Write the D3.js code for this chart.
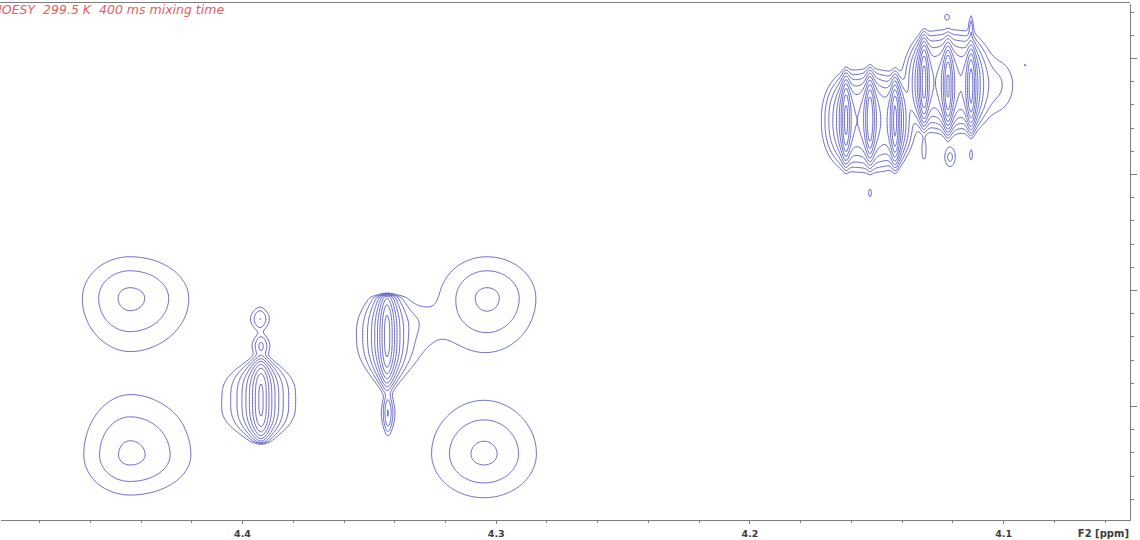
<!DOCTYPE html>
<html>
<head>
<meta charset="utf-8">
<title>NOESY 299.5 K</title>
<script src="https://cdn.jsdelivr.net/npm/d3@7"></script>
<style>
    html, body { margin: 0; padding: 0; background: #fff; overflow: hidden; }
    svg { display: block; }
    .title { font: italic 12.5px "DejaVu Sans", sans-serif; fill: #e35e5e; white-space: pre; }
    .axis text { font: bold 9.5px "DejaVu Sans", sans-serif; fill: #3c3c3c; }
    .axis path, .axis line, .frame { stroke: #7d7d7d; stroke-width: 1; fill: none; shape-rendering: crispEdges; }
    .axis-title { font: bold 10px "DejaVu Sans", sans-serif; fill: #3c3c3c; }
    .contour { fill: none; stroke: #5656ca; stroke-width: 0.9; stroke-linejoin: round; }
</style>
</head>
<body>
<svg id="chart" width="1140" height="540"></svg>
<script>
'use strict';

const titleText = 'NOESY  299.5 K  400 ms mixing time';
const f2Title = 'F2 [ppm]';
const f2Domain = [4.4954, 4.05];
const f1Domain = [4.0763, 4.2991];
const f2Labels = [4.4, 4.3, 4.2, 4.1];
const f1Majors = [4.10, 4.15, 4.20, 4.25];

// contour levels (relative intensity)
const contourLevels = [1, 2.25, 5.06, 11.4, 25.6, 57.7, 130, 292, 657, 1478];

// round peaks: F2, F1, height, width F2 low-field / high-field side, width F1 up / down (ppm)
const roundPeaks = [
    [4.44415, 4.20345, 6.0, 0.01537, 0.01892, 0.01466, 0.01767],
    [4.44415, 4.27112, 6.0, 0.01498, 0.01971, 0.02026, 0.01422],
    [4.30461, 4.27069, 6.0, 0.01695, 0.01695, 0.01810, 0.01552],
    [4.30343, 4.20345, 6.0, 0.01498, 0.01577, 0.01466, 0.01810],
    [4.33299, 4.21379, 1.25, 0.01182, 0.01380, 0.00776, 0.01293],
    [4.10319, 4.11164, 2.5, 0.00788, 0.00867, 0.01293, 0.01379],
    [4.12211, 4.08233, 1.4, 0.00197, 0.00197, 0.00259, 0.00259],
    [4.09137, 4.10302, 1.05, 0.00100, 0.00100, 0.00100, 0.00100],
    [4.12093, 4.14267, 3.0, 0.00236, 0.00236, 0.00474, 0.00474]
];

// column peaks: F2, F1, height, width F2 low / high side, width F1, F1 exponent, F1 cut top, F1 cut bottom
const columnPeaks = [
    [4.34285, 4.21983, 1000, 0.00210, 0.00220, 0.01250, 2.7, 4.20259, null],
    [4.34245, 4.25302, 12, 0.00158, 0.00158, 0.00603, 2, null, null],
    [4.39251, 4.24741, 800, 0.00276, 0.00256, 0.01142, 3.3, null, 4.26595],
    [4.39291, 4.21250, 5, 0.00315, 0.00315, 0.00388, 2, null, null],
    [4.39251, 4.22414, 6, 0.00276, 0.00276, 0.00388, 2, null, null],
    [4.16193, 4.12672, 900, 0.00138, 0.00138, 0.01034, 2.5, null, null],
    [4.15247, 4.12629, 1500, 0.00138, 0.00138, 0.01034, 2.5, null, null],
    [4.14261, 4.12716, 900, 0.00138, 0.00138, 0.01034, 2.5, null, null],
    [4.13118, 4.11034, 1000, 0.00138, 0.00138, 0.01034, 2.5, null, null],
    [4.12172, 4.11207, 1800, 0.00138, 0.00138, 0.01034, 2.5, null, null],
    [4.11266, 4.11207, 1000, 0.00138, 0.00138, 0.01034, 2.5, null, null],
    [4.11266, 4.08793, 4, 0.00079, 0.00079, 0.00517, 2, null, null],
    [4.13118, 4.13966, 2.5, 0.00099, 0.00099, 0.00431, 2, null, null],
    [4.11266, 4.14181, 2.0, 0.00079, 0.00079, 0.00259, 2, null, null],
    [4.15247, 4.15819, 1.6, 0.00099, 0.00099, 0.00259, 2, null, null]
];

// plateau peaks under the multiplets: F2, F1, height, width F2, width F1, F2 exponent, F1 exponent
const plateauPeaks = [
    [4.15365, 4.12716, 45, 0.01104, 0.01293, 3, 2.5],
    [4.12172, 4.11013, 45, 0.01064, 0.01293, 3, 2.5]
];

const plot = { left: 0, right: 1130, top: 3, bottom: 520 };

const svg = d3.select('#chart');

const x = d3.scaleLinear().domain(f2Domain).range([plot.left, plot.right]);
const y = d3.scaleLinear().domain(f1Domain).range([plot.top, plot.bottom]);

// intensity grid
const cell = 1.5;
const nx = Math.ceil((plot.right - plot.left) / cell);
const ny = Math.ceil((plot.bottom - plot.top) / cell);
const f2s = d3.range(nx).map(i => x.invert(plot.left + (i + 0.5) * cell));
const f1s = d3.range(ny).map(j => y.invert(plot.top + (j + 0.5) * cell));
const values = new Float64Array(nx * ny);
const cutSoft = 0.0003;

roundPeaks.forEach(([p2, p1, h, wl, wr, wu, wd]) => {
    for (let j = 0; j < ny; j++){
        const v = f1s[j] - p1;
        const vv = v / (v < 0 ? wu : wd);
        for (let i = 0; i < nx; i++){
            const u = f2s[i] - p2;
            const uu = u / (u > 0 ? wl : wr);
            const q = 1 + uu * uu + vv * vv;
            values[i + j * nx] += h / (q * q);
        }
    }
});

columnPeaks.forEach(([p2, p1, h, wl, wr, wy, pw, cutTop, cutBottom]) => {
    for (let j = 0; j < ny; j++){
        const f1 = f1s[j];
        let g = h * Math.exp(-Math.pow(Math.abs(f1 - p1) / wy, pw));
        if (cutTop !== null) g /= 1 + Math.exp((cutTop - f1) / cutSoft);
        if (cutBottom !== null) g /= 1 + Math.exp((f1 - cutBottom) / cutSoft);
        if (g < 1e-4) continue;
        for (let i = 0; i < nx; i++){
            const u = f2s[i] - p2;
            const uu = u / (u > 0 ? wl : wr);
            const s = 1 + uu * uu;
            values[i + j * nx] += g / (s * s);
        }
    }
});

plateauPeaks.forEach(([p2, p1, h, wx, wy, px, py]) => {
    for (let j = 0; j < ny; j++){
        const g = h * Math.exp(-Math.pow(Math.abs(f1s[j] - p1) / wy, py));
        if (g < 1e-4) continue;
        for (let i = 0; i < nx; i++){
            values[i + j * nx] += g * Math.exp(-Math.pow(Math.abs(f2s[i] - p2) / wx, px));
        }
    }
});

const contours = d3.contours()
    .size([nx, ny])
    .thresholds(contourLevels)(values);

const path = d3.geoPath(d3.geoIdentity().scale(cell).translate([plot.left, plot.top]));

svg.append('g')
    .attr('class', 'contours')
    .selectAll('path')
    .data(contours)
    .join('path')
    .attr('class', 'contour')
    .attr('d', path);

// frame
svg.append('line')
    .attr('class', 'frame')
    .attr('x1', plot.left).attr('x2', plot.right)
    .attr('y1', plot.top - 0.5).attr('y2', plot.top - 0.5);

// F2 axis
const f2Minor = d3.range(4.06, 4.495, 0.02);
svg.append('g')
    .attr('class', 'axis')
    .attr('transform', `translate(0,${plot.bottom})`)
    .call(d3.axisBottom(x).tickValues(f2Minor).tickSize(3).tickSizeOuter(0).tickFormat(''));

svg.append('g')
    .attr('class', 'axis')
    .attr('transform', `translate(0,${plot.bottom})`)
    .call(d3.axisBottom(x).tickValues(f2Labels).tickSize(4).tickPadding(6).tickFormat(d3.format('.1f')))
    .call(g => g.select('.domain').remove());

svg.append('text')
    .attr('class', 'axis-title')
    .attr('x', plot.right - 1)
    .attr('y', 537)
    .attr('text-anchor', 'end')
    .text(f2Title);

// F1 axis (its labels fall outside the picture)
const f1Minor = d3.range(4.08, 4.30, 0.01);
svg.append('g')
    .attr('class', 'axis')
    .attr('transform', `translate(${plot.right},0)`)
    .call(d3.axisRight(y).tickValues(f1Minor).tickSize(4).tickSizeOuter(0).tickFormat(''));

svg.append('g')
    .attr('class', 'axis')
    .attr('transform', `translate(${plot.right},0)`)
    .call(d3.axisRight(y).tickValues(f1Majors).tickSize(7).tickFormat(''))
    .call(g => g.select('.domain').remove());

svg.append('text')
    .attr('class', 'title')
    .attr('x', -7.5)
    .attr('y', 14)
    .text(titleText);
</script>
</body>
</html>
